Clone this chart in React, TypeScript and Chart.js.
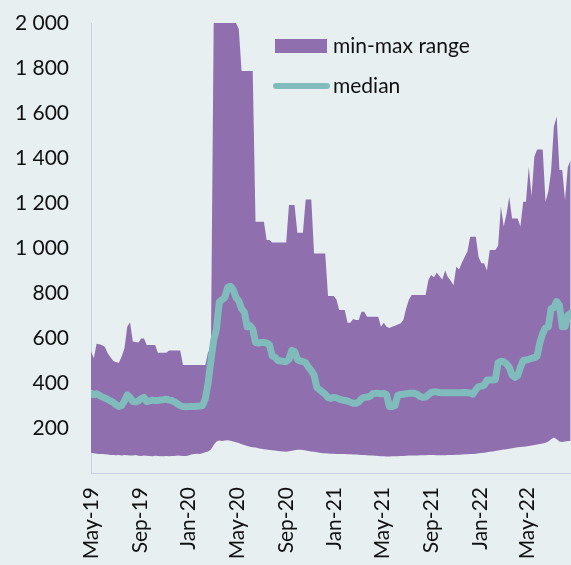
import React, { useEffect, useRef } from 'react';
import { Chart, registerables } from 'chart.js';

Chart.register(...registerables);

// ---- data (weekly observations starting 2019-05-01) ----
const START_DATE = '2019-05-01';
const END_DATE = '2022-08-18';

const tickLabels = ['May-19', 'Sep-19', 'Jan-20', 'May-20', 'Sep-20', 'Jan-21', 'May-21', 'Sep-21', 'Jan-22', 'May-22'];
const tickDates = ['2019-05-01', '2019-09-01', '2020-01-01', '2020-05-01', '2020-09-01', '2021-01-01', '2021-05-01', '2021-09-01', '2022-01-01', '2022-05-01'];
const yTickValues = [200, 400, 600, 800, 1000, 1200, 1400, 1600, 1800, 2000];

const maxValues = [
  540, 510, 575, 572, 568, 560, 532, 515, 498, 492,
  490, 518, 555, 650, 670, 584, 582, 580, 598, 598,
  569, 569, 569, 569, 535, 535, 535, 535, 544, 544,
  544, 544, 544, 480, 480, 480, 480, 480, 480, 480,
  480, 480, 539, 539, 2000, 2000, 2000, 2000, 2000, 2000,
  2000, 2000, 2000, 1973, 1787, 1787, 1787, 1787, 1787, 1117,
  1117, 1117, 1117, 1036, 1036, 1025, 1025, 1025, 1025, 1025,
  1025, 1191, 1191, 1191, 1068, 1068, 1068, 1216, 1216, 1216,
  976, 976, 976, 976, 976, 787, 787, 787, 772, 724,
  724, 724, 668, 668, 685, 680, 680, 717, 717, 695,
  695, 695, 695, 695, 650, 668, 650, 645, 650, 655,
  660, 665, 680, 730, 770, 791, 791, 791, 791, 791,
  791, 858, 880, 870, 890, 875, 860, 900, 870, 855,
  835, 917, 905, 935, 960, 984, 1050, 1050, 1050, 960,
  932, 932, 900, 991, 991, 991, 1010, 1184, 1096, 1150,
  1228, 1131, 1131, 1131, 1096, 1206, 1206, 1361, 1230, 1406,
  1438, 1438, 1438, 1206, 1250, 1340, 1539, 1584, 1347, 1347,
  1213, 1360, 1390,
];

const minValues = [
  90, 88, 86, 85, 84, 83, 82, 80, 80, 79,
  80, 78, 80, 79, 78, 78, 80, 77, 76, 78,
  77, 76, 75, 77, 76, 75, 74, 76, 75, 76,
  76, 78, 77, 76, 76, 78, 82, 85, 86, 85,
  88, 92, 96, 105, 125, 140, 145, 142, 144, 146,
  143, 140, 137, 133, 128, 124, 120, 117, 115, 113,
  110, 108, 106, 104, 102, 101, 100, 98, 97, 96,
  95, 97, 99, 101, 103, 103, 102, 100, 98, 96,
  94, 92, 90, 88, 88, 87, 86, 86, 85, 85,
  84, 84, 83, 83, 82, 82, 81, 80, 80, 79,
  78, 78, 77, 76, 75, 74, 73, 73, 74, 74,
  75, 76, 76, 77, 78, 78, 78, 78, 79, 79,
  79, 80, 80, 80, 79, 79, 79, 79, 80, 80,
  80, 81, 81, 82, 83, 83, 84, 85, 86, 88,
  89, 90, 92, 94, 96, 98, 100, 102, 104, 106,
  108, 110, 112, 114, 116, 117, 118, 120, 122, 124,
  127, 129, 131, 134, 140, 150, 158, 150, 140, 138,
  140, 142, 142,
];

const medianValues = [
  355, 348, 352, 345, 338, 333, 327, 320, 314, 303,
  296, 300, 320, 347, 336, 318, 316, 320, 330, 336,
  318, 320, 324, 322, 322, 325, 326, 328, 324, 322,
  316, 308, 300, 295, 294, 295, 296, 296, 297, 298,
  300, 330, 400, 500, 590, 640, 760, 770, 780, 825,
  830, 815, 780, 765, 730, 715, 650, 655, 640, 580,
  578, 580, 580, 578, 570, 520, 515, 500, 498, 496,
  495, 505, 545, 540, 505, 498, 495, 490, 470, 455,
  435, 380, 370, 360, 350, 335, 332, 336, 334, 328,
  325, 322, 320, 315, 310, 310, 315, 330, 336, 338,
  340, 352, 354, 354, 352, 354, 348, 296, 295, 300,
  345, 349, 350, 352, 354, 354, 354, 350, 340, 336,
  338, 348, 358, 360, 360, 358, 357, 357, 357, 357,
  357, 357, 357, 357, 358, 357, 356, 350, 370, 384,
  386, 390, 413, 413, 413, 415, 490, 497, 495, 485,
  470, 435, 425, 432, 470, 500, 502, 505, 510, 512,
  520, 580, 620, 645, 650, 730, 735, 762, 745, 650,
  650, 700, 710,
];

// ---- styling ----
const BG = '#e7eff0';
const PURPLE = '#8f6fae';
const TEAL = '#80bcbc';
const AXIS = '#c9d2e0';
const TEXT = '#111111';
const FONT = 'Lato';

const DAY = 86400000;
const dayOffset = (d: string) => Math.round((Date.parse(d) - Date.parse(START_DATE)) / DAY);
const toPoints = (arr: number[]) => arr.map((v, i) => ({ x: i * 7, y: v }));

const formatThousands = (v: number) => {
  if (v >= 1000) return `${Math.floor(v / 1000)} ${String(v % 1000).padStart(3, '0')}`;
  return String(v);
};

const legendPlugin = {
  id: 'customLegend',
  afterDraw(chart: any) {
    const ctx = chart.ctx;
    ctx.save();
    ctx.fillStyle = PURPLE;
    ctx.fillRect(275, 39, 52, 14);
    ctx.strokeStyle = TEAL;
    ctx.lineWidth = 6;
    ctx.lineCap = 'round';
    ctx.beginPath();
    ctx.moveTo(276, 86);
    ctx.lineTo(327, 86);
    ctx.stroke();
    ctx.fillStyle = TEXT;
    ctx.font = `21px ${FONT}`;
    ctx.textBaseline = 'alphabetic';
    ctx.textAlign = 'left';
    ctx.fillText('min-max range', 333, 53);
    ctx.fillText('median', 333, 93);
    ctx.restore();
  },
};

export default function App() {
  const ref = useRef<HTMLCanvasElement>(null);

  useEffect(() => {
    document.body.style.margin = '0';
    document.body.style.background = BG;
    const tickDays = tickDates.map(dayOffset);
    const chart = new Chart(ref.current as HTMLCanvasElement, {
      type: 'line',
      data: {
        datasets: [
          {
            label: 'median',
            data: toPoints(medianValues),
            borderColor: TEAL,
            borderWidth: 7,
            pointRadius: 0,
            fill: false,
            order: 0,
            borderJoinStyle: 'round',
            borderCapStyle: 'round',
          },
          {
            label: 'min',
            data: toPoints(minValues),
            borderColor: 'rgba(0,0,0,0)',
            borderWidth: 0,
            pointRadius: 0,
            fill: false,
            order: 1,
          },
          {
            label: 'max',
            data: toPoints(maxValues),
            borderColor: 'rgba(0,0,0,0)',
            borderWidth: 0,
            pointRadius: 0,
            backgroundColor: PURPLE,
            fill: 1,
            order: 2,
          },
        ] as any,
      },
      options: {
        animation: false,
        responsive: false,
        maintainAspectRatio: false,
        layout: { padding: { top: 23, right: 0, left: 0, bottom: 0 } },
        plugins: {
          legend: { display: false },
          tooltip: { enabled: false },
        },
        elements: { line: { tension: 0 } },
        scales: {
          x: {
            type: 'linear',
            min: 0,
            max: dayOffset(END_DATE),
            grid: { display: false, drawTicks: false },
            border: { display: true, color: AXIS, width: 1 },
            afterBuildTicks: (s: any) => {
              s.ticks = tickDays.map((v) => ({ value: v }));
            },
            afterFit: (s: any) => {
              s.height = 92;
              s.paddingLeft = 0;
              s.paddingRight = 0;
            },
            ticks: {
              autoSkip: false,
              minRotation: 90,
              maxRotation: 90,
              padding: 14,
              color: TEXT,
              font: { family: FONT, size: 21 },
              callback: (v: any) => {
                const idx = tickDays.indexOf(Number(v));
                return idx >= 0 ? tickLabels[idx] : '';
              },
            },
          },
          y: {
            type: 'linear',
            min: 0,
            max: 2000,
            grid: { display: false, drawTicks: false },
            border: { display: true, color: AXIS, width: 1 },
            afterBuildTicks: (s: any) => {
              s.ticks = yTickValues.map((v) => ({ value: v }));
            },
            afterFit: (s: any) => {
              s.width = 91;
              s.paddingTop = 0;
              s.paddingBottom = 0;
            },
            ticks: {
              padding: 22,
              color: TEXT,
              font: { family: FONT, size: 21 },
              callback: (v: any) => formatThousands(Number(v)),
            },
          },
        },
      } as any,
      plugins: [legendPlugin],
    });
    return () => chart.destroy();
  }, []);

  return (
    <div style={{ width: 571, height: 565, background: BG, overflow: 'hidden' }}>
      <canvas ref={ref} width={571} height={565} style={{ display: 'block' }} />
    </div>
  );
}
